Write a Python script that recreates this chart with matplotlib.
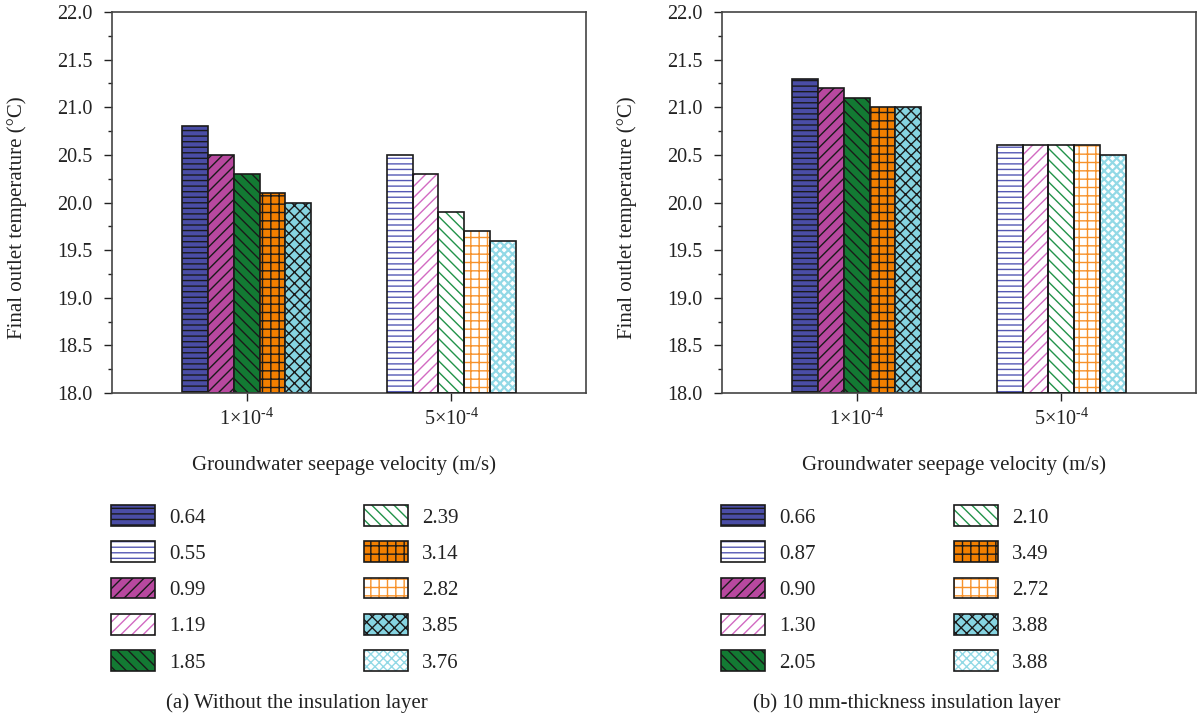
import matplotlib
matplotlib.use("Agg")
import matplotlib.pyplot as plt
from matplotlib.patches import Rectangle
from matplotlib.ticker import MultipleLocator

plt.rcParams["font.family"] = ["Liberation Serif", "DejaVu Serif"]
plt.rcParams["mathtext.fontset"] = "custom"
plt.rcParams["mathtext.rm"] = "Liberation Serif"
plt.rcParams["hatch.linewidth"] = 1.0

FS = 15
TICK_FS = 14.5
TEXT_C = "#222222"

# Groundwater seepage velocities on the x axis
velocities = [r"1×10$^{\text{-4}}$", r"5×10$^{\text{-4}}$"]

# (a) without insulation layer: series at the low velocity, then at the high velocity
a_labels_low = ["0.64", "0.99", "1.85", "3.14", "3.85"]
a_temps_low = [20.8, 20.5, 20.3, 20.1, 20.0]
a_labels_high = ["0.55", "1.19", "2.39", "2.82", "3.76"]
a_temps_high = [20.5, 20.3, 19.9, 19.7, 19.6]

# (b) 10 mm-thickness insulation layer
b_labels_low = ["0.66", "0.90", "2.05", "3.49", "3.88"]
b_temps_low = [21.3, 21.2, 21.1, 21.0, 21.0]
b_labels_high = ["0.87", "1.30", "2.10", "2.72", "3.88"]
b_temps_high = [20.6, 20.6, 20.6, 20.6, 20.5]

# bar styles: filled with black hatching at the low velocity, white with coloured hatching at the high one
fill_colors = ["#4A4DA6", "#B8489F", "#137A33", "#F27F00", "#86D4E1"]
line_colors = ["#5559B5", "#D26AC2", "#22934A", "#F7922B", "#92D9E6"]
hatches = ["---", "///", "\\\\\\", "++", "xxx"]
light_hatches = ["---", "///", "\\\\\\", "++", "xxxx"]
light_hatch_lw = [1.0, 1.0, 1.0, 1.0, 1.6]

BAR_W = 0.126
EDGE_LW = 1.2
EDGE_C = "#1a1a1a"

fig = plt.figure(figsize=(12.01, 7.16), dpi=100)
W, H = 1201, 716


def axes_rect(x0, x1, y_top, y_bot):
    return [x0 / W, 1 - y_bot / H, (x1 - x0) / W, (y_bot - y_top) / H]


def draw_panel(ax, temps_low, temps_high):
    n = len(temps_low)
    for i in range(n):
        off = (i - (n - 1) / 2) * BAR_W
        # low velocity: coloured fill, black hatch and outline
        ax.bar(0 + off, temps_low[i] - 18.0, bottom=18.0, width=BAR_W,
               color=fill_colors[i], edgecolor=EDGE_C, linewidth=EDGE_LW,
               hatch=hatches[i], zorder=2)
        # high velocity: white fill, coloured hatch, black outline on top
        with plt.rc_context({"hatch.linewidth": light_hatch_lw[i]}):
            ax.bar(1 + off, temps_high[i] - 18.0, bottom=18.0, width=BAR_W,
                   color="white", edgecolor=line_colors[i], linewidth=0.0,
                   hatch=light_hatches[i], zorder=2)
        ax.bar(1 + off, temps_high[i] - 18.0, bottom=18.0, width=BAR_W,
               fill=False, edgecolor=EDGE_C, linewidth=EDGE_LW, zorder=3)

    ax.set_xlim(-0.6585, 1.6585)
    ax.set_ylim(18.0, 22.0)
    ax.set_xticks([0, 1])
    ax.set_xticklabels(velocities, fontsize=TICK_FS)
    ax.yaxis.set_major_locator(MultipleLocator(0.5))
    ax.yaxis.set_minor_locator(MultipleLocator(0.25))
    ax.set_yticklabels([f"{v:.1f}" for v in ax.get_yticks()], fontsize=TICK_FS)
    ax.tick_params(axis="y", which="major", direction="out", length=6, width=1.0,
                   pad=8, colors=TEXT_C, labelcolor=TEXT_C)
    ax.tick_params(axis="y", which="minor", direction="out", length=3, width=1.0,
                   color=TEXT_C)
    ax.tick_params(axis="x", which="major", direction="out", length=6, width=1.0,
                   pad=5, colors=TEXT_C, labelcolor=TEXT_C)
    for s in ax.spines.values():
        s.set_linewidth(1.2)
        s.set_color("#444444")
    ax.set_ylabel("Final outlet temperature (°C)", fontsize=FS, color=TEXT_C)
    ax.yaxis.set_label_coords(-0.18, 0.46)


def legend_handles(labels_low, labels_high):
    hs, ls = [], []
    for i in range(len(labels_low)):
        dark = Rectangle((0, 0), 1, 1, facecolor=fill_colors[i], edgecolor=EDGE_C,
                         linewidth=EDGE_LW, hatch=hatches[i])
        with plt.rc_context({"hatch.linewidth": light_hatch_lw[i]}):
            light_fill = Rectangle((0, 0), 1, 1, facecolor="white", edgecolor=line_colors[i],
                                   linewidth=0.0, hatch=light_hatches[i])
        light = (light_fill,
                 Rectangle((0, 0), 1, 1, fill=False, edgecolor=EDGE_C, linewidth=EDGE_LW))
        hs += [dark, light]
        ls += [labels_low[i], labels_high[i]]
    return hs, ls


panels = [
    (axes_rect(112, 586, 12, 393), a_labels_low, a_temps_low, a_labels_high, a_temps_high,
     "(a) Without the insulation layer", 7.6),
    (axes_rect(722, 1196, 12, 393), b_labels_low, b_temps_low, b_labels_high, b_temps_high,
     "(b) 10 mm-thickness insulation layer", 6.65),
]

for rect, ll, tl, lh, th, caption, colspace in panels:
    ax = fig.add_axes(rect)
    draw_panel(ax, tl, th)
    x0 = rect[0] * W
    ax.text(0.49, -0.19, "Groundwater seepage velocity (m/s)", transform=ax.transAxes,
            ha="center", va="center", fontsize=FS, color=TEXT_C)
    hs, ls = legend_handles(ll, lh)
    fig.legend(hs, ls, loc="upper left", ncol=2, frameon=False, fontsize=FS,
               bbox_to_anchor=((x0 - 1) / W, 1 - 505 / H),
               borderpad=0.0, borderaxespad=0.0,
               handlelength=2.11, handleheight=1.17, handletextpad=0.67,
               labelspacing=0.66, columnspacing=colspace,
               labelcolor=TEXT_C)
    fig.text((x0 + 185) / W, 1 - 703 / H, caption, ha="center", va="center",
             fontsize=FS, color=TEXT_C)

fig.savefig("out.png", dpi=100)
